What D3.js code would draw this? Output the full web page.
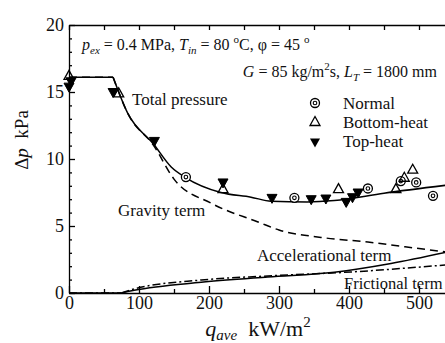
<!DOCTYPE html>
<html>
<head>
<meta charset="utf-8">
<script src="https://cdn.jsdelivr.net/npm/d3@7"></script>
<style>
  body { margin: 0; background: #fff; }
  svg { display: block; font-family: "Liberation Serif", "Times New Roman", "DejaVu Serif", serif; }
  .axis path, .axis line { stroke: #000; stroke-width: 1.3; }
  .axis text { font-size: 18px; fill: #111; font-family: "Liberation Serif", "Times New Roman", serif; }
</style>
</head>
<body>
<div id="chart"></div>
<script>
// curves: [q_ave kW/m2, dp kPa]
const totalPressure = [[0, 16.1], [63, 16.1], [84, 13.4], [121, 11.1], [146, 9.4], [167, 8.6],
  [217, 7.5], [260, 7.15], [289, 6.85], [340, 6.8], [379, 6.9], [450, 7.45], [540, 8.05]];
const gravityTerm = [[0, 16.1], [63, 16.1], [84, 13.4], [121, 11.0], [150, 8.5], [203, 6.7],
  [270, 5.3], [300, 4.7], [360, 4.15], [427, 3.8], [480, 3.45], [540, 3.05]];
const accelTerm = [[0, 0], [75, 0], [93, 0.2], [189, 0.8], [284, 1.2], [379, 1.55], [460, 2.2], [540, 3.05]];
const frictionTerm = [[0, 0], [75, 0], [93, 0.3], [189, 0.97], [284, 1.27], [403, 1.57], [540, 2.1]];

// measured points
const normalPts = [[167, 8.65], [322, 7.1], [427, 7.8], [474, 8.35], [496, 8.25], [520, 7.25]];
const bottomPts = [[0, 16.2], [71, 14.9], [220, 7.75], [385, 7.75], [467, 7.75], [479, 8.6], [491, 9.2]];
const topPts = [[0, 15.4], [3, 15.8], [63, 15.0], [122, 11.35], [220, 8.25], [290, 7.1], [346, 7.0],
  [367, 7.05], [396, 6.8], [405, 7.15], [413, 7.5]];

const xMajor = [0, 100, 200, 300, 400, 500];
const xMinor = [50, 150, 250, 350, 450, 550];
const yMajor = [0, 5, 10, 15, 20];

const width = 445, height = 343;
const margin = { left: 69, top: 25 };
const plotW = 420, plotH = 268;

const svg = d3.select('#chart').append('svg')
  .attr('width', width)
  .attr('height', height);

const x = d3.scaleLinear().domain([0, 600]).range([margin.left, margin.left + plotW]);
const y = d3.scaleLinear().domain([0, 20]).range([margin.top + plotH, margin.top]);

// axes (ticks point inward)
svg.append('g').attr('class', 'axis')
  .attr('transform', `translate(${margin.left},0)`)
  .call(d3.axisLeft(y).tickValues(yMajor).tickSizeInner(-6).tickSizeOuter(0).tickPadding(5));
svg.append('g').attr('class', 'axis')
  .attr('transform', `translate(${margin.left},0)`)
  .call(d3.axisLeft(y).tickValues(d3.range(0, 20).filter(v => v % 5)).tickSize(-3).tickFormat(''))
  .select('.domain').remove();

svg.append('g').attr('class', 'axis')
  .attr('transform', `translate(0,${margin.top + plotH})`)
  .call(d3.axisBottom(x).tickValues(xMajor).tickSizeInner(-7).tickSizeOuter(0).tickPadding(3));
svg.append('g').attr('class', 'axis')
  .attr('transform', `translate(0,${margin.top + plotH})`)
  .call(d3.axisBottom(x).tickValues(xMinor).tickSize(-4).tickFormat(''))
  .select('.domain').remove();

svg.append('g').attr('class', 'axis')
  .attr('transform', `translate(0,${margin.top})`)
  .call(d3.axisTop(x).tickValues(xMajor.concat(xMinor)).tickSizeInner(-5).tickSizeOuter(0).tickFormat(''));

// curves
const line = d3.line().x(d => x(d[0])).y(d => y(d[1]));
const smooth = d3.line().x(d => x(d[0])).y(d => y(d[1])).curve(d3.curveMonotoneX);

function drawCurve(data, dash) {
  // straight plateau, then a smooth fall from the corner
  svg.append('path').datum(data.slice(0, 2))
    .attr('fill', 'none').attr('stroke', '#000').attr('stroke-width', 1.5)
    .attr('stroke-dasharray', dash).attr('d', line);
  svg.append('path').datum(data.slice(1))
    .attr('fill', 'none').attr('stroke', '#000').attr('stroke-width', 1.5)
    .attr('stroke-dasharray', dash).attr('d', smooth);
}
drawCurve(totalPressure, null);
drawCurve(gravityTerm, '8,5');
drawCurve(accelTerm, null);
drawCurve(frictionTerm, '8,3,2,3');

// markers
const triUp = 'M0,-5.5L5,3.5L-5,3.5Z';
const triDown = 'M0,5.5L5,-3.5L-5,-3.5Z';

function normalMark(g) {
  g.append('circle').attr('r', 4.5).attr('fill', '#fff').attr('stroke', '#000').attr('stroke-width', 1.3);
  g.append('circle').attr('r', 1.8).attr('fill', 'none').attr('stroke', '#000').attr('stroke-width', 1.1);
}

svg.selectAll('.normal').data(normalPts).enter().append('g')
  .attr('class', 'normal')
  .attr('transform', d => `translate(${x(d[0])},${y(d[1])})`)
  .call(normalMark);

svg.selectAll('.bottom').data(bottomPts).enter().append('path')
  .attr('class', 'bottom')
  .attr('d', triUp)
  .attr('transform', d => `translate(${x(d[0])},${y(d[1])})`)
  .attr('fill', 'none').attr('stroke', '#000').attr('stroke-width', 1.3);

svg.selectAll('.top').data(topPts).enter().append('path')
  .attr('class', 'top')
  .attr('d', triDown)
  .attr('transform', d => `translate(${x(d[0])},${y(d[1])})`)
  .attr('fill', '#000').attr('stroke', '#000').attr('stroke-width', 1);

// legend
const legend = svg.append('g').attr('font-size', 17).attr('fill', '#111');
normalMark(legend.append('g').attr('transform', 'translate(315,103)'));
legend.append('path').attr('d', triUp).attr('transform', 'translate(315,122)')
  .attr('fill', 'none').attr('stroke', '#000').attr('stroke-width', 1.3);
legend.append('path').attr('d', triDown).attr('transform', 'translate(315,142)')
  .attr('fill', '#000');
legend.append('text').attr('x', 343).attr('y', 109).text('Normal');
legend.append('text').attr('x', 343).attr('y', 128).text('Bottom-heat');
legend.append('text').attr('x', 343).attr('y', 147).text('Top-heat');

// curve labels
const labels = [
  ['Total pressure', 132, 105, 17],
  ['Gravity term', 118, 216, 17],
  ['Accelerational term', 257, 261, 17],
  ['Frictional term', 344, 289, 16.5]
];
svg.selectAll('.lbl').data(labels).enter().append('text')
  .attr('class', 'lbl')
  .attr('x', d => d[1]).attr('y', d => d[2])
  .attr('font-size', d => d[3]).attr('fill', '#111')
  .text(d => d[0]);

// condition text
const t1 = svg.append('text').attr('x', 82).attr('y', 50).attr('font-size', 16).attr('fill', '#111');
t1.append('tspan').attr('font-style', 'italic').text('p');
t1.append('tspan').attr('font-style', 'italic').attr('font-size', 11).attr('dy', 4).text('ex');
t1.append('tspan').attr('dy', -4).text(' = 0.4 MPa, ');
t1.append('tspan').attr('font-style', 'italic').text('T');
t1.append('tspan').attr('font-style', 'italic').attr('font-size', 11).attr('dy', 4).text('in');
t1.append('tspan').attr('dy', -4).text(' = 80 ');
t1.append('tspan').attr('font-size', 11).attr('dy', -7).text('o');
t1.append('tspan').attr('dy', 7).text('C, \u03c6 = 45 ');
t1.append('tspan').attr('font-size', 11).attr('dy', -7).text('o');

const t2 = svg.append('text').attr('x', 437).attr('y', 77).attr('font-size', 16)
  .attr('text-anchor', 'end').attr('fill', '#111');
t2.append('tspan').attr('font-style', 'italic').text('G');
t2.append('tspan').text(' = 85 kg/m');
t2.append('tspan').attr('font-size', 11).attr('dy', -7).text('2');
t2.append('tspan').attr('dy', 7).text('s, ');
t2.append('tspan').attr('font-style', 'italic').text('L');
t2.append('tspan').attr('font-style', 'italic').attr('font-size', 11).attr('dy', 4).text('T');
t2.append('tspan').attr('dy', -4).text(' = 1800 mm');

// axis titles
const xt = svg.append('text').attr('x', 258).attr('y', 336).attr('font-size', 22)
  .attr('text-anchor', 'middle').attr('fill', '#111');
xt.append('tspan').attr('font-style', 'italic').text('q');
xt.append('tspan').attr('font-style', 'italic').attr('font-size', 15).attr('dy', 4).text('ave');
xt.append('tspan').attr('dy', -4).text('\u00a0\u00a0kW/m');
xt.append('tspan').attr('font-size', 15).attr('dy', -9).text('2');

const yt = svg.append('text').attr('transform', 'translate(28,140) rotate(-90)')
  .attr('font-size', 19).attr('text-anchor', 'middle').attr('fill', '#111');
yt.append('tspan').text('\u0394');
yt.append('tspan').attr('font-style', 'italic').text('p');
yt.append('tspan').text('\u00a0\u00a0kPa');
</script>
</body>
</html>
